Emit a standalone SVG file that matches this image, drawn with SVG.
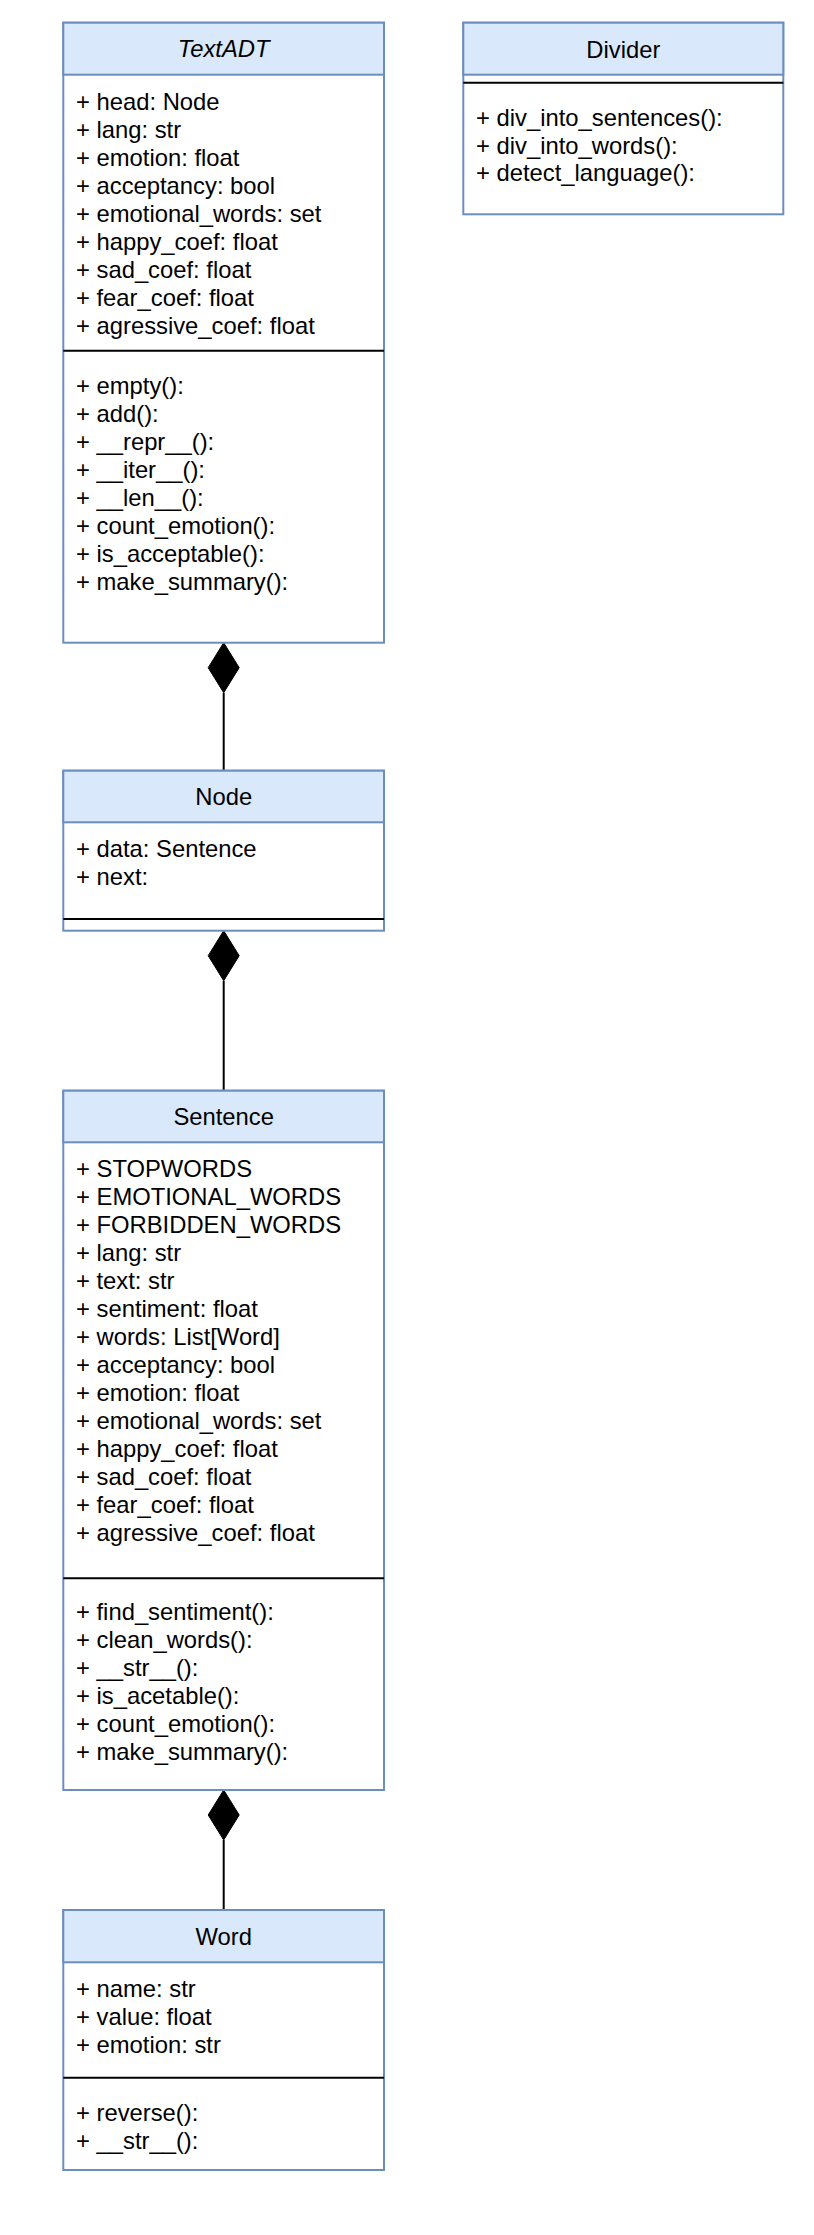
<svg xmlns="http://www.w3.org/2000/svg" width="814" height="2235" viewBox="0 0 814 2235">
<style>
.hd{fill:#dae8fc;stroke:#6c8ebf;stroke-width:2}
.bd{fill:#ffffff;stroke:#6c8ebf;stroke-width:2}
.sep{stroke:#000000;stroke-width:2}
text{font-family:"Liberation Sans",Arial,Helvetica,sans-serif;font-size:23.8px;fill:#000000}
.t{text-anchor:middle}
.it{font-style:italic}
.conn{stroke:#000000;stroke-width:2;fill:none}
.dia{fill:#000000;stroke:#000000;stroke-width:1}
</style>
<rect width="814" height="2235" fill="#ffffff"/>
<g id="connectors">
<line class="conn" x1="223.7" y1="692.7" x2="223.7" y2="770.7"/>
<polygon class="dia" points="223.7,642.7 239.2,667.7 223.7,692.7 208.2,667.7"/>
<line class="conn" x1="223.7" y1="980.7" x2="223.7" y2="1090.7"/>
<polygon class="dia" points="223.7,930.7 239.2,955.7 223.7,980.7 208.2,955.7"/>
<line class="conn" x1="223.7" y1="1840" x2="223.7" y2="1910"/>
<polygon class="dia" points="223.7,1790 239.2,1815 223.7,1840 208.2,1815"/>
</g>
<g id="TextADT">
<rect class="bd" x="63.3" y="22.7" width="320.7" height="620"/>
<rect class="hd" x="63.3" y="22.7" width="320.7" height="52"/>
<text class="t it" x="223.7" y="57.3">TextADT</text>
<text x="76" y="110">+ head: Node</text>
<text x="76" y="138">+ lang: str</text>
<text x="76" y="166">+ emotion: float</text>
<text x="76" y="194">+ acceptancy: bool</text>
<text x="76" y="222">+ emotional_words: set</text>
<text x="76" y="250">+ happy_coef: float</text>
<text x="76" y="278">+ sad_coef: float</text>
<text x="76" y="306">+ fear_coef: float</text>
<text x="76" y="334">+ agressive_coef: float</text>
<line class="sep" x1="63.3" y1="350.7" x2="384" y2="350.7"/>
<text x="76" y="393.5">+ empty():</text>
<text x="76" y="421.5">+ add():</text>
<text x="76" y="449.5">+ __repr__():</text>
<text x="76" y="477.5">+ __iter__():</text>
<text x="76" y="505.5">+ __len__():</text>
<text x="76" y="533.5">+ count_emotion():</text>
<text x="76" y="561.5">+ is_acceptable():</text>
<text x="76" y="589.5">+ make_summary():</text>
</g>
<g id="Divider">
<rect class="bd" x="463.3" y="22.7" width="320" height="191.6"/>
<rect class="hd" x="463.3" y="22.7" width="320" height="52"/>
<text class="t" x="623.3" y="58">Divider</text>
<line class="sep" x1="463.3" y1="82.7" x2="783.3" y2="82.7"/>
<text x="476" y="125.7">+ div_into_sentences():</text>
<text x="476" y="153.5">+ div_into_words():</text>
<text x="476" y="181.3">+ detect_language():</text>
</g>
<g id="Node">
<rect class="bd" x="63.3" y="770.7" width="320.7" height="160"/>
<rect class="hd" x="63.3" y="770.7" width="320.7" height="51.6"/>
<text class="t" x="223.7" y="805.3">Node</text>
<text x="76" y="857">+ data: Sentence</text>
<text x="76" y="885">+ next:</text>
<line class="sep" x1="63.3" y1="919" x2="384" y2="919"/>
</g>
<g id="Sentence">
<rect class="bd" x="63.3" y="1090.7" width="320.7" height="699.3"/>
<rect class="hd" x="63.3" y="1090.7" width="320.7" height="51.6"/>
<text class="t" x="223.7" y="1125.3">Sentence</text>
<text x="76" y="1176.7">+ STOPWORDS</text>
<text x="76" y="1204.7">+ EMOTIONAL_WORDS</text>
<text x="76" y="1232.7">+ FORBIDDEN_WORDS</text>
<text x="76" y="1260.7">+ lang: str</text>
<text x="76" y="1288.7">+ text: str</text>
<text x="76" y="1316.7">+ sentiment: float</text>
<text x="76" y="1344.7">+ words: List[Word]</text>
<text x="76" y="1372.7">+ acceptancy: bool</text>
<text x="76" y="1400.7">+ emotion: float</text>
<text x="76" y="1428.7">+ emotional_words: set</text>
<text x="76" y="1456.7">+ happy_coef: float</text>
<text x="76" y="1484.7">+ sad_coef: float</text>
<text x="76" y="1512.7">+ fear_coef: float</text>
<text x="76" y="1540.7">+ agressive_coef: float</text>
<line class="sep" x1="63.3" y1="1578.3" x2="384" y2="1578.3"/>
<text x="76" y="1620">+ find_sentiment():</text>
<text x="76" y="1648">+ clean_words():</text>
<text x="76" y="1676">+ __str__():</text>
<text x="76" y="1704">+ is_acetable():</text>
<text x="76" y="1732">+ count_emotion():</text>
<text x="76" y="1760">+ make_summary():</text>
</g>
<g id="Word">
<rect class="bd" x="63.3" y="1910" width="320.7" height="260"/>
<rect class="hd" x="63.3" y="1910" width="320.7" height="52.3"/>
<text class="t" x="223.7" y="1944.6">Word</text>
<text x="76" y="1997.3">+ name: str</text>
<text x="76" y="2025.3">+ value: float</text>
<text x="76" y="2053.3">+ emotion: str</text>
<line class="sep" x1="63.3" y1="2077.7" x2="384" y2="2077.7"/>
<text x="76" y="2121">+ reverse():</text>
<text x="76" y="2149">+ __str__():</text>
</g>
</svg>
